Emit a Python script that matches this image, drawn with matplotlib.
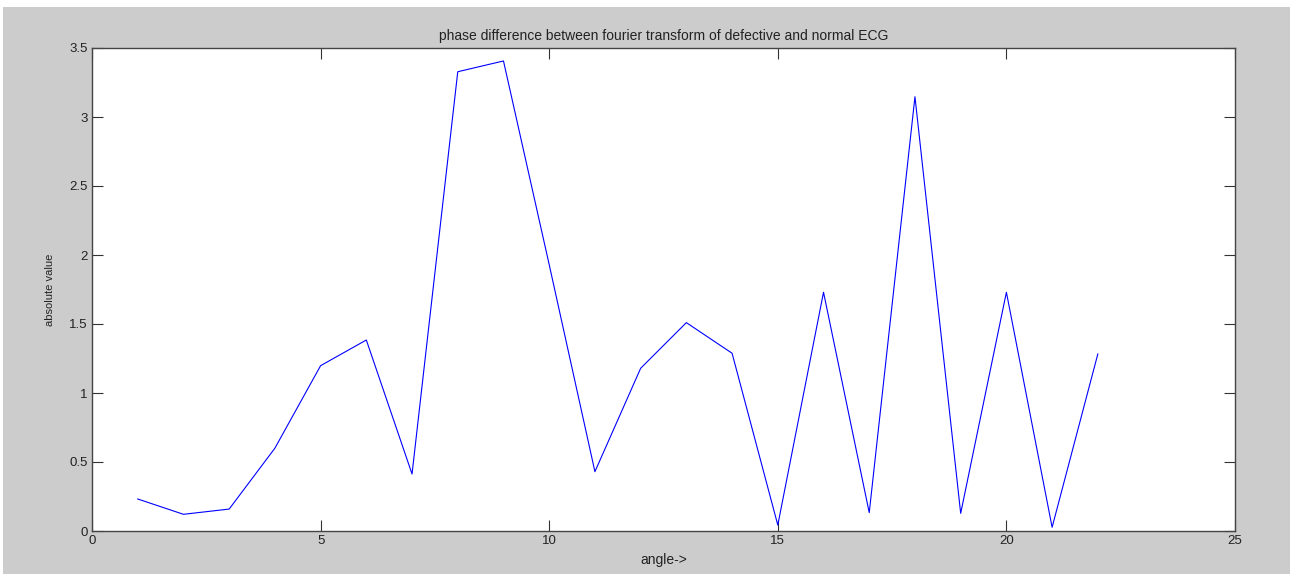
import matplotlib.pyplot as plt
from matplotlib.patches import Rectangle

# phase difference per angle index
angle = [1, 2, 3, 4, 5, 6, 7, 8, 9, 10, 11,
         12, 13, 14, 15, 16, 17, 18, 19, 20, 21, 22]
phase_diff = [0.232, 0.121, 0.159, 0.60, 1.198, 1.384, 0.413, 3.328, 3.406, 1.93, 0.43,
              1.179, 1.51, 1.288, 0.043, 1.73, 0.133, 3.147, 0.128, 1.73, 0.027, 1.283]

x_ticks = [0, 5, 10, 15, 20, 25]
y_ticks = [0, 0.5, 1, 1.5, 2, 2.5, 3, 3.5]

plt.rcParams['font.family'] = ['Liberation Sans', 'DejaVu Sans']

W, H = 1290, 574
fig = plt.figure(figsize=(W / 100, H / 100), dpi=100)
fig.patch.set_facecolor('white')
# grey window area, kept behind the axes
fig.patches.append(Rectangle((3 / W, 0), 1, (H - 7) / H, transform=fig.transFigure,
                             facecolor='#cccccc', edgecolor='none', zorder=-10))

ax = fig.add_axes([92 / W, (H - 531) / H, 1143 / W, 483 / H])
ax.set_zorder(1)
ax.set_facecolor('white')
ax.plot(angle, phase_diff, color='#0000ff', linewidth=0.8)

ax.set_xlim(0, 25)
ax.set_ylim(0, 3.5)
ax.set_xticks(x_ticks)
ax.set_yticks(y_ticks)
ax.set_xticklabels([str(t) for t in x_ticks])
ax.set_yticklabels(['0', '0.5', '1', '1.5', '2', '2.5', '3', '3.5'])
ax.tick_params(direction='in', length=8, width=0.8, color='#333333',
               top=True, right=True, labelsize=9.5, labelcolor='#222222', pad=3)
for s in ax.spines.values():
    s.set_color('#444444')
    s.set_linewidth(1.0)

ax.set_title('phase difference between fourier transform of defective and normal ECG',
             fontsize=10, color='#222222', pad=6)
ax.set_xlabel('angle->', fontsize=10, color='#222222', labelpad=4)
ax.set_ylabel('absolute value', fontsize=8, color='#222222', labelpad=10)

fig.savefig('out.png', dpi=100, facecolor=fig.get_facecolor())
